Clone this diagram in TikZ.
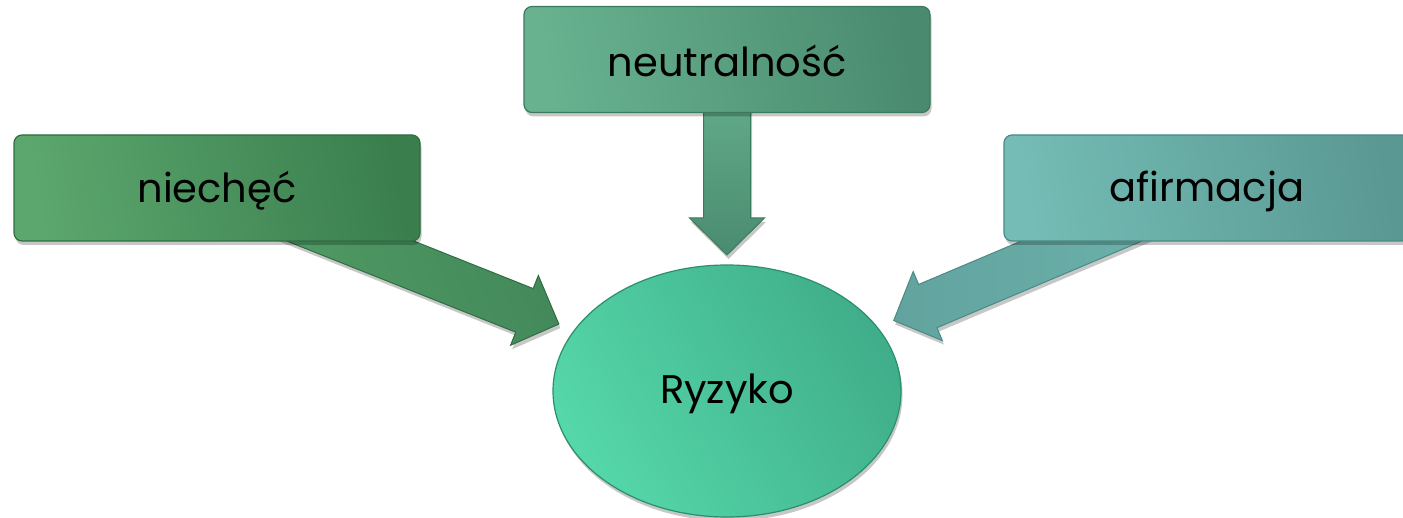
\documentclass[tikz,border=0pt]{standalone}
\usepackage{fontspec}
\setmainfont{Poppins}
\usetikzlibrary{calc,shapes.geometric,shadows}
\pgfdeclarelayer{back}
\pgfdeclarelayer{bg}
\pgfsetlayers{back,bg,main}
\definecolor{nieL}{HTML}{5CA76E}
\definecolor{nieR}{HTML}{3A7E4E}
\definecolor{nieB}{HTML}{2F6E41}
\definecolor{neuL}{HTML}{68B290}
\definecolor{neuR}{HTML}{4A8B6F}
\definecolor{neuB}{HTML}{3A7A5D}
\definecolor{afiL}{HTML}{74BCB5}
\definecolor{afiR}{HTML}{5A9893}
\definecolor{afiB}{HTML}{4A8A84}
\definecolor{ryzL}{HTML}{55D7A9}
\definecolor{ryzR}{HTML}{40AE8A}
\definecolor{ryzB}{HTML}{2A8F6D}
\definecolor{arLa}{HTML}{529E66}
\definecolor{arLb}{HTML}{43885A}
\definecolor{arAa}{HTML}{6DB3AD}
\definecolor{arAb}{HTML}{62A39E}
\newcommand\blockarr[3]{%
  \coordinate (H) at ($(#3)!37pt!(#2)$);
  \path[#1] ($(#2)!23.5pt!90:(#3)$) -- ($(H)!23.5pt!90:(#3)$) -- ($(H)!37.5pt!90:(#3)$)
    -- (#3) -- ($(H)!37.5pt!-90:(#3)$) -- ($(H)!23.5pt!-90:(#3)$) -- ($(#2)!23.5pt!-90:(#3)$) -- cycle;}
\tikzset{
  shad/.style={drop shadow={shadow xshift=1.5pt, shadow yshift=-4pt, opacity=.22, fill=black}},
  lbl/.style={font=\fontsize{40}{46}\selectfont, text=black},
  box/.style={rectangle, rounded corners=8pt, minimum width=406pt, minimum height=106pt,
    inner sep=0pt, line width=1.2pt, shad},
  arr/.style={line width=1pt, line join=miter, shad}
}
\begin{document}
\begin{tikzpicture}[x=1pt,y=-1pt]
\begin{pgfonlayer}{back}
\fill[white] (0,0) rectangle (1403,518);
\end{pgfonlayer}
\useasboundingbox (0,0) rectangle (1403,518);
\node[box, draw=nieB, left color=nieL, right color=nieR, shading angle=100] (nie) at (217,188) {};
\node[box, draw=neuB, left color=neuL, right color=neuR, shading angle=100] (neu) at (727,59.5) {};
\node[box, draw=afiB, left color=afiL, right color=afiR, shading angle=100] (afi) at (1207,188) {};
\node[lbl] (tnie) at ($(nie.center)+(0,3)$) {niechęć};
\node[lbl] (tneu) at ($(neu.center)+(0,1)$) {neutralność};
\node[lbl] (tafi) at ($(afi.center)+(0,3)$) {afirmacja};
\node[ellipse, minimum width=348pt, minimum height=252pt, inner sep=0pt, line width=1.2pt,
  draw=ryzB, left color=ryzL, right color=ryzR, shading angle=120, shad] (ryz) at (727,391) {};
\node[lbl] (tryz) at ($(ryz.center)+(0,3)$) {Ryzyko};
\begin{pgfonlayer}{bg}
\coordinate (tipL) at ($(ryz.center)!181pt!(nie.center)$);
\coordinate (tipN) at ($(ryz.center)!136pt!(neu.center)$);
\coordinate (tipA) at ($(ryz.center)!181pt!(afi.center)$);
\blockarr{arr, draw=nieB, left color=arLa, right color=arLb, shading angle=110}{nie.center}{tipL}
\blockarr{arr, draw=neuB, top color=neuL, bottom color=neuR}{neu.center}{tipN}
\blockarr{arr, draw=afiB, left color=arAb, right color=arAa}{afi.center}{tipA}
\end{pgfonlayer}
\end{tikzpicture}
\end{document}
